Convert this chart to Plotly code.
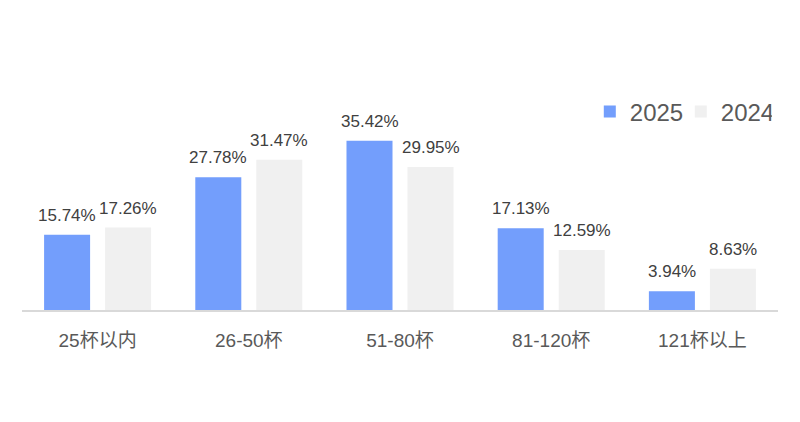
import plotly.graph_objects as go

categories = ["25杯以内", "26-50杯", "51-80杯", "81-120杯", "121杯以上"]
values_2025 = [15.74, 27.78, 35.42, 17.13, 3.94]
values_2024 = [17.26, 31.47, 29.95, 12.59, 8.63]

font_family = "Liberation Sans, Arial, Noto Sans CJK SC, sans-serif"
series = [("2025", values_2025, "#739efc", -30.5), ("2024", values_2024, "#f0f0f0", 30.5)]

fig = go.Figure()
for name, vals, color, shift in series:
    fig.add_trace(go.Bar(
        name=name, x=categories, y=vals,
        marker=dict(color=color, line=dict(width=0)),
        cliponaxis=False,
    ))
    for c, v in zip(categories, vals):
        fig.add_annotation(
            x=c, y=v, xref="x", yref="y", text=f"{v:.2f}%",
            showarrow=False, xshift=shift, yshift=8, yanchor="bottom",
            font=dict(size=17, color="#404040", family=font_family),
        )

fig.update_layout(
    width=800, height=422,
    margin=dict(l=22, r=22, t=119, b=112, autoexpand=False),
    paper_bgcolor="white", plot_bgcolor="white",
    barmode="group", bargap=0.193, bargroupgap=0.246,
    font=dict(family=font_family, color="#595959"),
    legend=dict(orientation="h", xref="container", yref="container",
                x=0.96475, xanchor="right", y=1 - 112 / 422, yanchor="middle",
                font=dict(size=24, color="#595959"), itemwidth=30,
                entrywidth=46, entrywidthmode="pixels",
                traceorder="normal", bgcolor="rgba(0,0,0,0)"),
)
fig.update_xaxes(
    showline=True, linecolor="#d9d9d9", linewidth=2,
    showgrid=False, ticks="", tickfont=dict(size=19, color="#595959"),
    ticklabelstandoff=12, automargin=False,
)
fig.update_yaxes(visible=False, range=[0, 40], showgrid=False, automargin=False)

fig.write_html("out.html", config={"displayModeBar": False},
               post_script="document.body.style.margin='0';")
